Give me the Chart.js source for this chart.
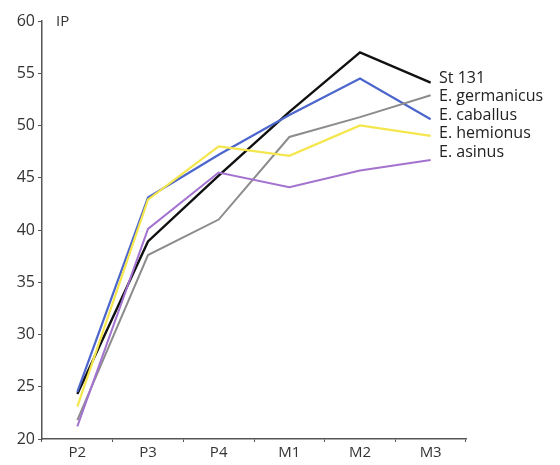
<!DOCTYPE html>
<html>
<head>
<meta charset="utf-8">
<script src="https://cdn.jsdelivr.net/npm/chart.js@4"></script>
<style>
    html, body { margin: 0; padding: 0; background: #fff; }
    #wrap { width: 560px; height: 465px; }
</style>
</head>
<body>
<div id="wrap"><canvas id="ip"></canvas></div>
<script>
const teeth = ["P2", "P3", "P4", "M1", "M2", "M3"];
const yTicks = [20, 25, 30, 35, 40, 45, 50, 55, 60];

const st131 = [24.3, 38.9, 45.2, 51.3, 57.0, 54.1];
const germanicus = [21.8, 37.6, 41.0, 48.9, 50.8, 52.9];
const caballus = [24.5, 43.1, 47.2, 51.0, 54.5, 50.6];
const hemionus = [23.1, 42.9, 48.0, 47.1, 50.0, 49.0];
const asinus = [21.2, 40.1, 45.5, 44.1, 45.7, 46.7];

const seriesNames = ["St 131", "E. germanicus", "E. caballus", "E. hemionus", "E. asinus"];

const font = '"Open Sans", sans-serif';

// names at the right end of the lines, stacked like the original figure
const endLabels = {
    id: "endLabels",
    afterDraw(chart) {
        const ctx = chart.ctx;
        const x = chart.chartArea.right - 27;
        ctx.save();
        ctx.font = "16px " + font;
        ctx.fillStyle = "#222";
        ctx.textBaseline = "middle";
        seriesNames.forEach((name, i) => {
            ctx.fillText(name, x, 78 + i * 18.5);
        });
        // axis name
        ctx.font = "15px " + font;
        ctx.fillStyle = "#333";
        ctx.fillText("IP", chart.chartArea.left + 14, chart.chartArea.top + 1);
        ctx.restore();
    },
};

function line(label, data, color, width) {
    return {
        label: label,
        data: data,
        borderColor: color,
        backgroundColor: color,
        borderWidth: width,
        pointRadius: 0,
        tension: 0,
        fill: false,
    };
}

new Chart(document.getElementById("ip"), {
    type: "line",
    data: {
        labels: teeth,
        datasets: [
            line("E. asinus", asinus, "#a373cf", 2),
            line("E. hemionus", hemionus, "#f4e64c", 2.2),
            line("E. germanicus", germanicus, "#8c8c8c", 2),
            line("E. caballus", caballus, "#4c66cc", 2.2),
            line("St 131", st131, "#111111", 2.4),
        ],
    },
    options: {
        responsive: true,
        maintainAspectRatio: false,
        animation: false,
        layout: {
            padding: { left: 0, right: 94, top: 21, bottom: 0 },
        },
        plugins: {
            legend: { display: false },
            tooltip: { enabled: false },
        },
        scales: {
            x: {
                offset: true,
                border: { color: "#555", width: 1.5 },
                grid: {
                    offset: true,
                    drawOnChartArea: false,
                    drawTicks: true,
                    tickLength: 3,
                    color: "#555",
                },
                ticks: {
                    color: "#333",
                    font: { family: font, size: 15 },
                    padding: 2,
                    maxRotation: 0,
                },
                afterFit(scale) {
                    scale.height = 26;
                },
            },
            y: {
                min: 20,
                max: 60,
                afterBuildTicks(scale) {
                    scale.ticks = yTicks.map((v) => ({ value: v }));
                },
                border: { color: "#555", width: 1.5 },
                grid: {
                    drawOnChartArea: false,
                    drawTicks: true,
                    tickLength: 4,
                    color: "#555",
                },
                ticks: {
                    color: "#333",
                    font: { family: font, size: 16 },
                    padding: 3,
                },
                afterFit(scale) {
                    scale.width = 42;
                },
            },
        },
    },
    plugins: [endLabels],
});
</script>
</body>
</html>
